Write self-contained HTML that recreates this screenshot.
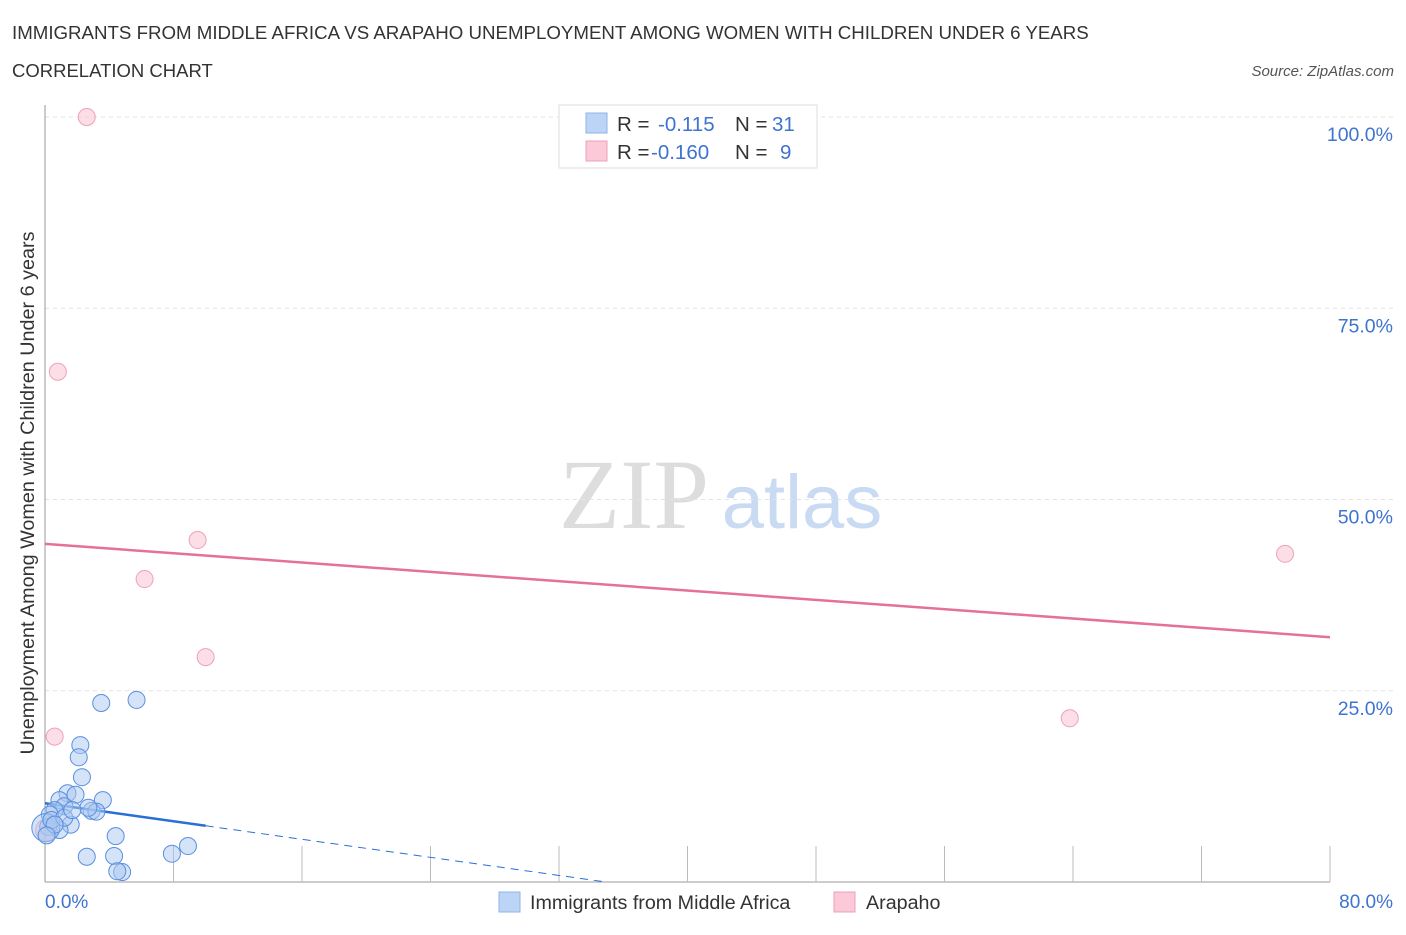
<!DOCTYPE html>
<html><head><meta charset="utf-8"><style>
body{margin:0;background:#fff;font-family:"Liberation Sans",sans-serif}
svg text{font-family:"Liberation Sans",sans-serif}
</style></head><body>
<svg width="1406" height="930" id="chart">
<text x="12" y="39" font-size="18.7" fill="#333">IMMIGRANTS FROM MIDDLE AFRICA VS ARAPAHO UNEMPLOYMENT AMONG WOMEN WITH CHILDREN UNDER 6 YEARS</text>
<text x="12" y="77" font-size="18.5" fill="#333">CORRELATION CHART</text>
<text x="1394" y="76" font-size="15" fill="#555" font-style="italic" text-anchor="end">Source: ZipAtlas.com</text>
<text x="634" y="528" font-size="100" fill="#ddd" text-anchor="middle" style="font-family:'Liberation Serif',serif">ZIP</text>
<text x="802" y="528" font-size="76" fill="#c9daf3" text-anchor="middle">atlas</text>
<g id="grid"></g><g id="axes"></g><g id="lines"></g><g id="pts"></g>
<text x="34" y="493" font-size="19.8" fill="#333" text-anchor="middle" transform="rotate(-90 34 493)">Unemployment Among Women with Children Under 6 years</text>
<g>
<rect x="559" y="105" width="258" height="63" fill="#fff" stroke="#ddd"/>
<rect x="586" y="113" width="21" height="20" fill="#bcd4f5" stroke="#8fb3e8"/>
<rect x="586" y="141" width="21" height="20" fill="#fbc9d8" stroke="#eea0b8"/>
<text x="617" y="131" font-size="20.5" fill="#333">R = </text><text x="658" y="131" font-size="20.5" fill="#3f73d0">-0.115</text>
<text x="735" y="131" font-size="20.5" fill="#333">N = </text><text x="772" y="131" font-size="20.5" fill="#3f73d0">31</text>
<text x="617" y="159" font-size="20.5" fill="#333">R = </text><text x="651" y="159" font-size="20.5" fill="#3f73d0">-0.160</text>
<text x="735" y="159" font-size="20.5" fill="#333">N = </text><text x="780" y="159" font-size="20.5" fill="#3f73d0">9</text>
</g>
<g>
<rect x="499" y="892" width="21" height="20" fill="#bcd4f5" stroke="#8fb3e8"/>
<text x="530" y="909" font-size="19.7" fill="#333">Immigrants from Middle Africa</text>
<rect x="834" y="892" width="21" height="20" fill="#fbc9d8" stroke="#eea0b8"/>
<text x="866" y="909" font-size="19.7" fill="#333">Arapaho</text>
</g>
<text x="45" y="908" font-size="19" fill="#3f73d0">0.0%</text>
<text x="1393" y="908" font-size="19" fill="#3f73d0" text-anchor="end">80.0%</text>
</svg>
<script>
const yTicks=[25,50,75,100];
const yTickLabels=["25.0%","50.0%","75.0%","100.0%"];
const blueX=[3.5,5.7,2.2,2.1,2.3,1.4,0.9,1.9,3.6,2.9,3.2,2.7,1.2,0.6,0.3,1.6,0.9,0.2,0.05,4.4,4.3,2.6,4.8,4.5,7.9,8.9,0.4,1.2,1.7,0.6,0.1];
const blueY=[23.4,23.8,17.9,16.3,13.7,11.6,10.7,11.4,10.7,9.3,9.2,9.7,9.9,9.4,8.8,7.5,6.8,7.2,7.1,6.0,3.4,3.3,1.3,1.4,3.7,4.7,8.1,8.4,9.4,7.5,6.1];
const pinkX=[2.6,0.8,9.5,6.2,10.0,0.6,77.2,63.8,0.1];
const pinkY=[100,66.7,44.7,39.6,29.4,19.0,42.9,21.4,6.8];
const blueFit=[10.3,-0.295];
const pinkFit=[44.2,-0.1525];
const X0=45,X1=1330,Y0=882,Y100=117;
const sx=v=>X0+v/80*(X1-X0), sy=v=>Y0-v/100*(Y0-Y100);
const NS="http://www.w3.org/2000/svg";
function mk(t,a,p){const e=document.createElementNS(NS,t);for(const k in a)e.setAttribute(k,a[k]);p.appendChild(e);return e;}
const grid=document.getElementById('grid'),axes=document.getElementById('axes'),lines=document.getElementById('lines'),pts=document.getElementById('pts');
yTicks.forEach((t,i)=>{
 const l=mk('line',{x1:X0,x2:1393,y1:sy(t),y2:sy(t),stroke:'#e3e3e3','stroke-dasharray':'4,4'},grid);
 
 
 const tx=mk('text',{x:1393,y:sy(t)+24,'font-size':19.5,fill:'#3f73d0','text-anchor':'end'},grid);
 tx.textContent=yTickLabels[i];
 
 
});
const ya=mk('line',{x1:X0,x2:X0,y1:105,y2:Y0,stroke:'#999'},axes);


const xa=mk('line',{x1:X0,x2:X1,y1:Y0,y2:Y0,stroke:'#999'},axes);


for(let v=8;v<=80;v+=8){const t=mk('line',{x1:sx(v),x2:sx(v),y1:846,y2:Y0,stroke:'#bbb'},axes);
 
 }
let b=mk('line',{x1:sx(0),y1:sy(blueFit[0]),x2:sx(10),y2:sy(blueFit[0]+blueFit[1]*10),stroke:'#2a6fd6','stroke-width':2.5},lines);


const xe=-blueFit[0]/blueFit[1];
b=mk('line',{x1:sx(10),y1:sy(blueFit[0]+blueFit[1]*10),x2:sx(xe),y2:sy(0),stroke:'#2a6fd6','stroke-width':1,'stroke-dasharray':'8,6'},lines);


const p=mk('line',{x1:sx(0),y1:sy(pinkFit[0]),x2:sx(80),y2:sy(pinkFit[0]+pinkFit[1]*80),stroke:'#e5709a','stroke-width':2.5},lines);


pinkX.forEach((x,i)=>{const c=mk('circle',{cx:sx(x),cy:sy(pinkY[i]),r:i==8?11:8.5,fill:'rgba(249,190,208,0.5)',stroke:'#f0a0ba','stroke-width':1},pts);
 
 });
blueX.forEach((x,i)=>{const c=mk('circle',{cx:sx(x),cy:sy(blueY[i]),r:i==18?14:8.5,fill:'rgba(170,200,240,0.5)',stroke:'#5a8fe0','stroke-width':1},pts);
 
 });
</script>
</body></html>
